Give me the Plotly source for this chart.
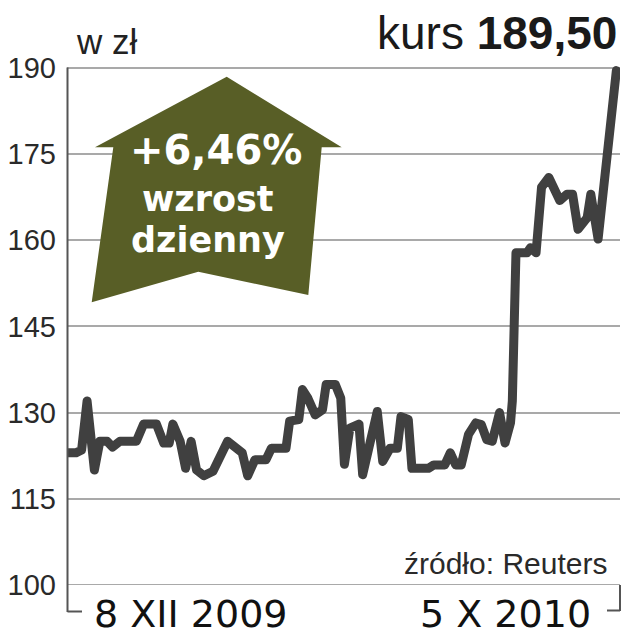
import plotly.graph_objects as go

# ---- data ----
dates = [
    "2009-12-08", "2009-12-13", "2009-12-16", "2009-12-19", "2009-12-23", "2009-12-26",
    "2009-12-30", "2010-01-02", "2010-01-06", "2010-01-15", "2010-01-19", "2010-01-26",
    "2010-01-30", "2010-02-02", "2010-02-04", "2010-02-08", "2010-02-11", "2010-02-14",
    "2010-02-17", "2010-02-21", "2010-02-26", "2010-03-06", "2010-03-14", "2010-03-17",
    "2010-03-21", "2010-03-27", "2010-03-30", "2010-04-07", "2010-04-09", "2010-04-14",
    "2010-04-16", "2010-04-19", "2010-04-23", "2010-04-27", "2010-04-29", "2010-05-04",
    "2010-05-07", "2010-05-09", "2010-05-12", "2010-05-17", "2010-05-19", "2010-05-23",
    "2010-05-27", "2010-05-30", "2010-06-03", "2010-06-07", "2010-06-09", "2010-06-13",
    "2010-06-15", "2010-06-24", "2010-06-27", "2010-07-03", "2010-07-06", "2010-07-09",
    "2010-07-12", "2010-07-16", "2010-07-20", "2010-07-23", "2010-07-26", "2010-07-29",
    "2010-08-02", "2010-08-05", "2010-08-08", "2010-08-09", "2010-08-11", "2010-08-17",
    "2010-08-19", "2010-08-22", "2010-08-25", "2010-08-29", "2010-09-04", "2010-09-08",
    "2010-09-11", "2010-09-14", "2010-09-19", "2010-09-21", "2010-09-25", "2010-10-05",
]
prices = [
    123.0, 123.0, 123.5, 132.0, 120.0, 125.0,
    125.0, 124.0, 125.0, 125.0, 128.0, 128.0,
    124.7, 124.7, 128.0, 125.0, 120.3, 125.0,
    120.0, 119.0, 119.8, 125.0, 123.0, 119.0,
    121.8, 121.8, 123.8, 123.8, 128.5, 128.8,
    134.0, 132.5, 129.6, 130.5, 134.9, 134.9,
    132.5, 121.0, 127.3, 128.0, 119.2, 124.4,
    130.2, 121.5, 123.8, 123.8, 129.3, 128.8,
    120.3, 120.3, 120.9, 120.9, 123.0, 120.9,
    120.9, 126.2, 128.2, 127.9, 125.3, 125.0,
    130.0, 124.7, 128.2, 132.0, 157.8, 157.8,
    158.7, 157.8, 169.2, 170.9, 166.9, 168.0,
    168.0, 161.9, 163.9, 168.0, 160.2, 189.5,
]
y_ticks = [100, 115, 130, 145, 160, 175, 190]
x_labels = ["8 XII 2009", "5 X 2010"]
unit_label = "w zł"
last_price_text = "189,50"
change_text = "+6,46%"
change_caption = ["wzrost", "dzienny"]
source_text = "źródło: Reuters"

# ---- layout geometry (pixels) ----
W, H = 622, 640
L, R, T, B = 67, 2, 62, 55
PW, PH = W - L - R, H - T - B


def px(x):
    return (x - L) / PW


def py(y):
    return (H - B - y) / PH


LINE = "#404040"
GRID = "#a9a9a9"
OLIVE = "#585e26"
SANS = "Liberation Sans, Arial, sans-serif"
WIDE = "DejaVu Sans, Verdana, sans-serif"

fig = go.Figure()
fig.add_trace(go.Scatter(
    x=dates, y=prices, mode="lines",
    line=dict(color=LINE, width=9, shape="linear"),
    hoverinfo="skip", showlegend=False,
))

shapes = []
# arrow
arrow_pts = [(226.7, 76.7), (341.7, 147.3), (321.7, 147.3), (308.3, 295.0),
             (198.3, 271.7), (91.7, 302.3), (113.3, 147.3), (95.0, 147.3)]
path = "M " + " L ".join(f"{px(a):.5f},{py(b):.5f}" for a, b in arrow_pts) + " Z"
shapes.append(dict(type="path", xref="paper", yref="paper", path=path,
                   fillcolor=OLIVE, line=dict(width=0), layer="above"))
# left axis line
shapes.append(dict(type="line", xref="paper", yref="paper",
                   x0=px(67.5), x1=px(67.5), y0=py(67.5), y1=py(612),
                   line=dict(color="#555555", width=2)))
# bottom bracket left
shapes.append(dict(type="line", xref="paper", yref="paper",
                   x0=px(67.5), x1=px(82), y0=py(611.5), y1=py(611.5),
                   line=dict(color="#555555", width=2)))
# bottom bracket right
shapes.append(dict(type="line", xref="paper", yref="paper",
                   x0=px(620), x1=px(620), y0=py(585), y1=py(611),
                   line=dict(color="#555555", width=2)))
shapes.append(dict(type="line", xref="paper", yref="paper",
                   x0=px(607), x1=px(620), y0=py(610.5), y1=py(610.5),
                   line=dict(color="#555555", width=2)))

annotations = [
    dict(text=unit_label, xref="paper", yref="paper", x=px(74), y=py(42),
         xanchor="left", yanchor="middle", showarrow=False,
         font=dict(family=SANS, size=35, color="#222222")),
    dict(text=f"kurs <b>{last_price_text}</b>", xref="paper", yref="paper",
         x=px(619), y=py(33), xanchor="right", yanchor="middle", showarrow=False,
         font=dict(family=SANS, size=46, color="#1a1a1a")),
    dict(text=f"<b>{change_text}</b>", xref="paper", yref="paper",
         x=px(216), y=py(150), xanchor="center", yanchor="middle", showarrow=False,
         font=dict(family=WIDE, size=40, color="white")),
    dict(text=f"<b>{change_caption[0]}</b>", xref="paper", yref="paper",
         x=px(208), y=py(199), xanchor="center", yanchor="middle", showarrow=False,
         font=dict(family=WIDE, size=35, color="white")),
    dict(text=f"<b>{change_caption[1]}</b>", xref="paper", yref="paper",
         x=px(208), y=py(240), xanchor="center", yanchor="middle", showarrow=False,
         font=dict(family=WIDE, size=35, color="white")),
    dict(text=source_text, xref="paper", yref="paper", x=px(609), y=py(563),
         xanchor="right", yanchor="middle", showarrow=False,
         font=dict(family=SANS, size=30, color="#2a2a2a")),
    dict(text=x_labels[0], xref="x", yref="paper", x=dates[0], y=py(614),
         xanchor="left", xshift=25, yanchor="middle", showarrow=False,
         font=dict(family=WIDE, size=38, color="#111111")),
    dict(text=x_labels[1], xref="x", yref="paper", x=dates[-1], y=py(614),
         xanchor="right", xshift=-23, yanchor="middle", showarrow=False,
         font=dict(family=WIDE, size=38, color="#111111")),
]

fig.update_layout(
    width=W, height=H,
    margin=dict(l=L, r=R, t=T, b=B, pad=0),
    paper_bgcolor="white", plot_bgcolor="white",
    shapes=shapes, annotations=annotations,
    xaxis=dict(type="date", range=["2009-12-08", "2010-10-07"],
               showgrid=False, showticklabels=False, zeroline=False,
               showline=False, ticks=""),
    yaxis=dict(range=[100, 191], tickvals=y_ticks,
               ticktext=[str(v) for v in y_ticks],
               showgrid=True, gridcolor=GRID, gridwidth=2,
               zeroline=False, showline=False, ticks="",
               ticklabelstandoff=10,
               tickfont=dict(family=SANS, size=29, color="#2a2a2a")),
)
# bottom baseline at 100 (grid at range edge)
fig.add_shape(type="line", xref="paper", yref="y", x0=0, x1=1, y0=100, y1=100,
              line=dict(color=GRID, width=2), layer="below")

fig.write_html(
    "out.html",
    config={"displayModeBar": False},
    post_script=(
        "document.body.style.margin='0';document.body.style.padding='0';"
        "document.querySelectorAll('.js-line').forEach(function(p){"
        "p.style.strokeLinejoin='round';p.style.strokeLinecap='round';});"
    ),
)
